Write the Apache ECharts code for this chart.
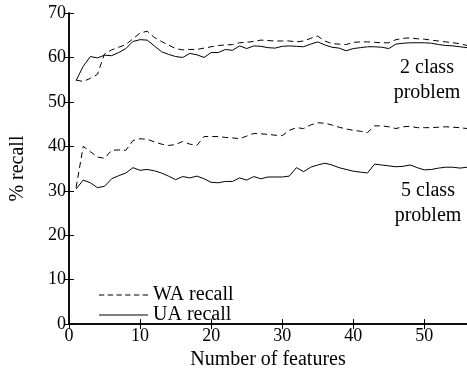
<!DOCTYPE html>
<html><head><meta charset="utf-8">
<script src="https://cdn.jsdelivr.net/npm/echarts@6/dist/echarts.min.js"></script>
<style>html,body{margin:0;padding:0;background:#fff}#c{width:467px;height:375px}</style>
</head><body><div id="c"></div>
<script>
var features = [];
for (var i = 1; i <= 56; i++) features.push(i);
var ua2 = [54.8,58,60.2,59.9,60.5,60.4,61.1,62,63.6,64,63.9,62.6,61.3,60.7,60.2,60,60.9,60.6,60,61.1,61.1,61.8,61.6,62.6,62,62.6,62.5,62.2,62.1,62.5,62.6,62.5,62.4,63,63.5,62.8,62.3,62.1,61.5,62,62.2,62.4,62.4,62.3,62,63,63.2,63.3,63.3,63.3,63.2,62.9,62.7,62.6,62.4,62.2];
var wa2 = [54.9,54.6,55.3,56.2,60.8,61.7,62.3,62.9,64.2,65.5,65.9,64.5,63.6,62.8,62,61.7,61.8,61.8,62.1,62.4,62.7,62.8,62.9,63.3,63.4,63.6,63.9,63.8,63.7,63.7,63.7,63.5,63.7,64.3,64.8,63.7,63.1,63,62.9,63.4,63.5,63.5,63.4,63.3,63.3,64,64.3,64.4,64.2,64.1,63.9,63.7,63.5,63.3,63.1,62.7];
var wa5 = [30.7,40,38.8,37.6,37.3,39.1,39.2,39.1,41.3,41.7,41.6,41,40.5,40.2,40.4,41.1,40.5,40.2,42.2,42.2,42.2,42,41.9,41.7,42.3,42.9,42.8,42.7,42.5,42.4,43.6,44.2,44,44.8,45.3,45.2,44.8,44.3,43.9,43.6,43.4,43.1,44.6,44.6,44.4,44,44.4,44.5,44.2,44.2,44.2,44.3,44.4,44.3,44.2,44];
var ua5 = [30.4,32.4,31.8,30.7,31,32.7,33.4,34,35.2,34.6,34.8,34.5,34,33.3,32.5,33.2,32.9,33.3,32.7,31.9,31.8,32.1,32.1,32.9,32.4,33.2,32.7,33.1,33.1,33.1,33.3,35.2,34.3,35.3,35.8,36.2,35.8,35.2,34.8,34.4,34.2,34,36,35.8,35.6,35.4,35.5,35.8,35.2,34.7,34.8,35.1,35.3,35.3,35.1,35.3];
var xTicks = [0,10,20,30,40,50];
var yTicks = [0,10,20,30,40,50,60,70];

var FONT = 'Liberation Serif';
function pairs(v){ return v.map(function(y,i){ return [features[i], y]; }); }
function mk(name, data, dashed){
  return {name:name, type:'line', data:pairs(data), symbol:'none', silent:true,
    lineStyle:{color:'#000', width:1, type: dashed ? [6,4] : 'solid'}, itemStyle:{color:'#000'}};
}
var dashIcon = 'path://M0,0h6v1h-6zM10,0h6v1h-6zM20,0h6v1h-6zM30,0h6v1h-6zM40,0h6v1h-6zM50,0h6v1h-6z';
var solidIcon = 'path://M0,0h56v1h-56z';
var chart = echarts.init(document.getElementById('c'));
chart.setOption({
  animation:false,
  grid:{left:64, right:0, top:13, bottom:44},
  legend:{left:94, top:280, orient:'vertical', itemWidth:49, itemHeight:1.2, itemGap:0,
    textStyle:{fontFamily:FONT, fontSize:20, color:'#000', lineHeight:19},
    itemStyle:{color:'#000', borderWidth:0},
    data:[{name:'WA recall', icon:dashIcon}, {name:'UA recall', icon:solidIcon}]},
  xAxis:[{type:'value', min:0, max:56, interval:10,
    axisLine:{lineStyle:{color:'#000', width:1.5}},
    axisTick:{inside:true, length:5, lineStyle:{color:'#000'}},
    axisLabel:{fontFamily:FONT, fontSize:18, color:'#000', margin:3, showMaxLabel:false,
      formatter:function(v){ return xTicks.indexOf(v)>=0 ? String(v) : ''; }},
    splitLine:{show:false},
    name:'Number of features', nameLocation:'middle', nameGap:22,
    nameTextStyle:{fontFamily:FONT, fontSize:20, color:'#000'}},
   {type:'value', position:'top', min:0, max:56, interval:10,
    axisLine:{lineStyle:{color:'#000', width:1.5}},
    axisTick:{inside:true, length:5, lineStyle:{color:'#000'}},
    axisLabel:{show:false}, splitLine:{show:false}}],
  yAxis:[{type:'value', min:0, max:70, interval:10,
    axisLine:{show:true, lineStyle:{color:'#000', width:1.5}},
    axisTick:{show:true, inside:true, length:5, lineStyle:{color:'#000'}},
    axisLabel:{fontFamily:FONT, fontSize:18, color:'#000', margin:3,
      formatter:function(v){ return yTicks.indexOf(v)>=0 ? String(v) : ''; }},
    splitLine:{show:false},
    name:'% recall', nameLocation:'middle', nameGap:41,
    nameTextStyle:{fontFamily:FONT, fontSize:20, color:'#000'}},
   {type:'value', position:'right', min:0, max:70, interval:10,
    axisLine:{show:true, lineStyle:{color:'#000', width:1.5}},
    axisTick:{show:true, inside:true, length:5, lineStyle:{color:'#000'}},
    axisLabel:{show:false}, splitLine:{show:false}}],
  graphic:[
    {type:'text', style:{text:'2 class\nproblem', x:427, y:55, align:'center', font:'20px "Liberation Serif"', fill:'#000', lineHeight:25}},
    {type:'text', style:{text:'5 class\nproblem', x:428, y:178, align:'center', font:'20px "Liberation Serif"', fill:'#000', lineHeight:25}}
  ],
  series:[mk('WA recall', wa2, true), mk('UA recall', ua2, false), mk('WA recall', wa5, true), mk('UA recall', ua5, false)]
});
</script></body></html>
